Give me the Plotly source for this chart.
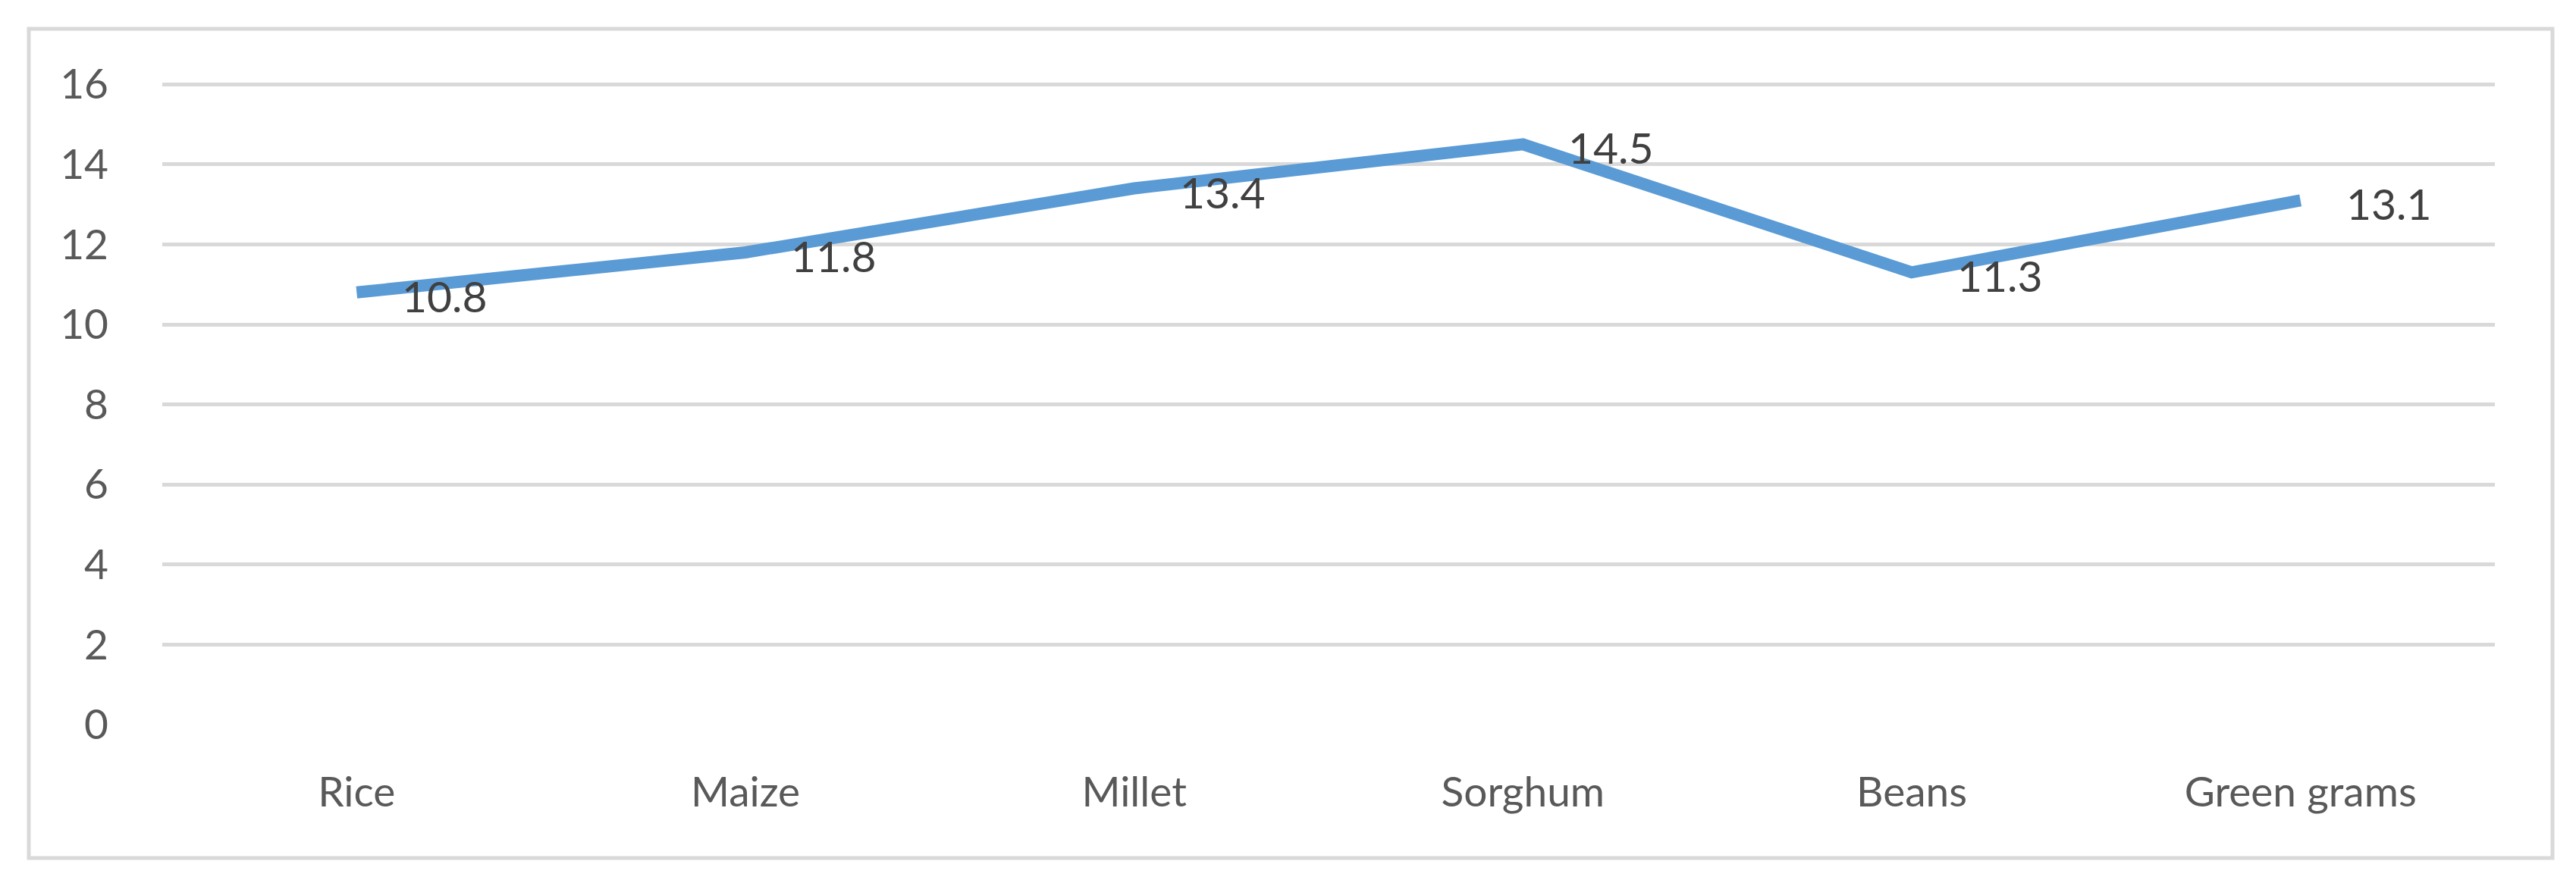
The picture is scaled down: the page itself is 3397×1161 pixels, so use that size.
import plotly.graph_objects as go

# crop values
crops = ['Rice', 'Maize', 'Millet', 'Sorghum', 'Beans', 'Green grams']
values = [10.8, 11.8, 13.4, 14.5, 11.3, 13.1]
y_ticks = [0, 2, 4, 6, 8, 10, 12, 14, 16]

W, H = 3397, 1161
# plot area in pixels
left, right, top, bottom = 206, 3282, 99, 948

fig = go.Figure()
fig.add_trace(go.Scatter(
    x=crops,
    y=values,
    mode='lines',
    line=dict(color='#5B9BD5', width=16),
    hoverinfo='x+y',
))

# data labels to the right of each point
annotations = []
for c, v in zip(crops, values):
    annotations.append(dict(
        x=c, y=v, xref='x', yref='y',
        text=f'{v:.1f}',
        showarrow=False,
        xanchor='left', yanchor='middle',
        xshift=58, yshift=-4,
        font=dict(family='Lato', size=57, color='#404040'),
    ))

# outer chart frame
pw, ph = right - left, bottom - top
frame = dict(
    type='rect', xref='paper', yref='paper',
    x0=(30 - left) / pw, x1=(3358 - left) / pw,
    y0=(bottom - 1124) / ph, y1=(bottom - 30) / ph,
    line=dict(color='#D9D9D9', width=5),
    fillcolor='rgba(0,0,0,0)',
    layer='below',
)

fig.update_layout(
    width=W, height=H,
    margin=dict(l=left, r=W - right, t=top, b=H - bottom),
    paper_bgcolor='white',
    plot_bgcolor='white',
    showlegend=False,
    font=dict(family='Lato', size=55, color='#595959'),
    annotations=annotations,
    shapes=[frame],
    xaxis=dict(
        type='category',
        range=[-0.5, len(crops) - 0.5],
        showgrid=False,
        zeroline=False,
        showline=False,
        ticks='',
        ticklabelstandoff=52,
        tickfont=dict(family='Lato', size=55, color='#595959'),
    ),
    yaxis=dict(
        range=[0, 16.08],
        tickmode='array',
        tickvals=y_ticks,
        ticktext=[str(t) for t in y_ticks],
        showgrid=True,
        gridcolor='#D9D9D9',
        gridwidth=5,
        zeroline=False,
        showline=False,
        ticks='',
        ticklabelstandoff=70,
        tickfont=dict(family='Lato', size=55, color='#595959'),
    ),
)

fig.write_html('out.html')
